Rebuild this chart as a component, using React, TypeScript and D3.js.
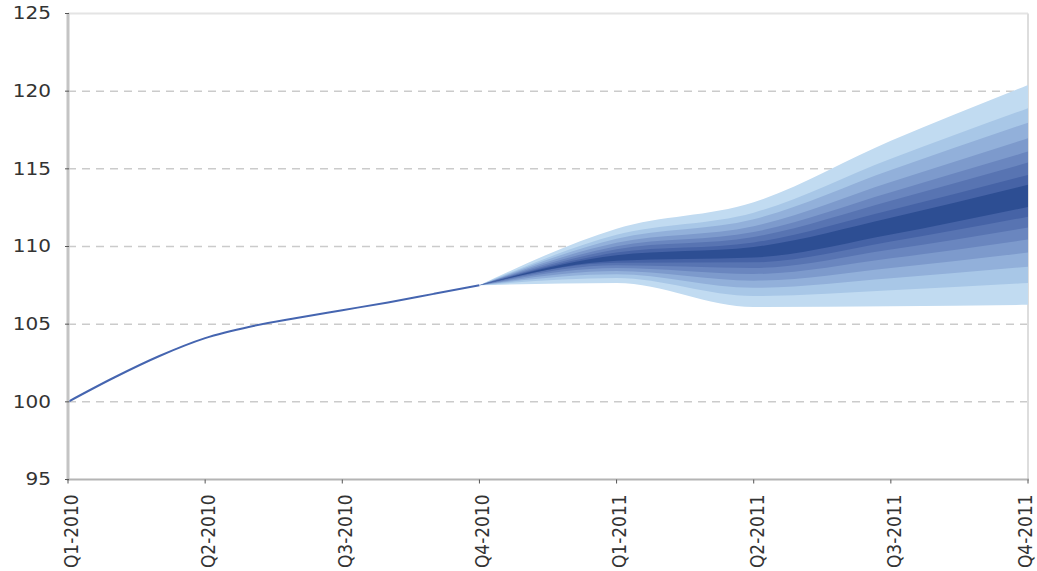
import * as d3 from "d3";

// quarterly category labels, one every 3 months
const quarterLabels = [
  "Q1-2010",
  "Q2-2010",
  "Q3-2010",
  "Q4-2010",
  "Q1-2011",
  "Q2-2011",
  "Q3-2011",
  "Q4-2011",
];
const yTicks = [95, 100, 105, 110, 115, 120, 125];
const gridValues = [100, 105, 110, 115, 120];

// outturn, monthly (month 0 = Q1-2010)
const historyMonths = [0, 1, 2, 3, 4, 5, 6, 7, 8, 9];
const historyValues = [100, 101.55, 102.95, 104.1, 104.85, 105.4, 105.9, 106.4, 106.95, 107.5];

// projection fan, quarterly (month 9 = Q4-2010 ... month 21 = Q4-2011)
const fanMonths = [9, 12, 15, 18, 21];
const fanMedian = [107.5, 109.25, 109.65, 111.3, 113.25];
const fanUpper1 = [107.5, 109.44, 109.97, 111.85, 113.97];
const fanUpper2 = [107.5, 109.61, 110.26, 112.35, 114.61];
const fanUpper3 = [107.5, 109.82, 110.61, 112.95, 115.4];
const fanUpper4 = [107.5, 110.01, 110.93, 113.5, 116.11];
const fanUpper5 = [107.5, 110.24, 111.31, 114.16, 116.97];
const fanUpper6 = [107.5, 110.5, 111.76, 114.93, 117.97];
const fanUpper7 = [107.5, 110.75, 112.18, 115.65, 118.9];
const fanUpper8 = [107.5, 111.15, 112.85, 116.8, 120.4];
const fanLower1 = [107.5, 109.09, 109.29, 110.78, 112.55];
const fanLower2 = [107.5, 108.95, 108.98, 110.32, 111.92];
const fanLower3 = [107.5, 108.79, 108.62, 109.81, 111.22];
const fanLower4 = [107.5, 108.61, 108.23, 109.24, 110.45];
const fanLower5 = [107.5, 108.42, 107.8, 108.62, 109.61];
const fanLower6 = [107.5, 108.21, 107.34, 107.95, 108.7];
const fanLower7 = [107.5, 107.97, 106.81, 107.18, 107.65];
const fanLower8 = [107.5, 107.65, 106.1, 106.15, 106.25];

// shades from the outermost band to the central one
const fanColors = [
  "#c1dbf1",
  "#a8c7e7",
  "#92b0da",
  "#7d9acc",
  "#6a86bf",
  "#5874b2",
  "#4663a6",
  "#2d4e93",
];

const width = 1037;
const height = 571;

export default function App() {
  const x = d3.scaleLinear().domain([0, 21]).range([68, 1028]);
  const y = d3.scaleLinear().domain([95, 125]).range([479.5, 13.5]);

  const uppers = [fanUpper8, fanUpper7, fanUpper6, fanUpper5, fanUpper4, fanUpper3, fanUpper2, fanUpper1];
  const lowers = [fanLower8, fanLower7, fanLower6, fanLower5, fanLower4, fanLower3, fanLower2, fanLower1];

  const area = d3
    .area<number>()
    .x((d) => x(fanMonths[d]))
    .curve(d3.curveMonotoneX);

  const line = d3
    .line<number>()
    .x((d) => x(historyMonths[d]))
    .y((d) => y(historyValues[d]))
    .curve(d3.curveMonotoneX);

  const fanIdx = fanMonths.map((_, i) => i);
  const histIdx = historyMonths.map((_, i) => i);

  return (
    <svg
      width={width}
      height={height}
      style={{ position: "absolute", left: 0, top: 0, background: "#fff" }}
      fontFamily="DejaVu Sans, Verdana, sans-serif"
    >
      {/* grid */}
      {gridValues.map((v) => (
        <line
          key={v}
          x1={68}
          x2={1028}
          y1={y(v)}
          y2={y(v)}
          stroke="#cbcbcb"
          strokeWidth={1.5}
          strokeDasharray="8,6"
        />
      ))}
      {/* frame */}
      <line x1={68} x2={1028} y1={y(125)} y2={y(125)} stroke="#e4e4e4" strokeWidth={2} />
      <line x1={1028} x2={1028} y1={y(125)} y2={y(95)} stroke="#dddddd" strokeWidth={2} />

      {/* fan, drawn outside-in */}
      {uppers.map((up, k) => (
        <path
          key={k}
          d={area.y0((d) => y(lowers[k][d])).y1((d) => y(up[d]))(fanIdx) || ""}
          fill={fanColors[k]}
        />
      ))}

      <path d={line(histIdx) || ""} fill="none" stroke="#4565b0" strokeWidth={2} />

      {/* axes */}
      <line x1={68} x2={68} y1={y(125)} y2={y(95) + 1} stroke="#c4c4c4" strokeWidth={3} />
      <line x1={67} x2={1029} y1={y(95)} y2={y(95)} stroke="#b4b4b4" strokeWidth={2} />
      {yTicks.map((v) => (
        <g key={v}>
          <line x1={65} x2={69} y1={y(v)} y2={y(v)} stroke="#555" strokeWidth={1} />
          <text
            transform={`translate(51,${y(v)}) scale(1.18,1)`}
            textAnchor="end"
            dominantBaseline="central"
            fontSize={17}
            fill="#333"
          >
            {v}
          </text>
        </g>
      ))}
      {quarterLabels.map((q, i) => (
        <g key={q}>
          <line x1={x(i * 3)} x2={x(i * 3)} y1={y(95)} y2={y(95) + 4} stroke="#555" strokeWidth={1} />
          <text
            transform={`translate(${Math.min(x(i * 3) + 3, 1025)},${y(95) + 15}) scale(1.12,1) rotate(-90)`}
            textAnchor="end"
            dominantBaseline="central"
            fontSize={17}
            fill="#333"
          >
            {q}
          </text>
        </g>
      ))}
    </svg>
  );
}
